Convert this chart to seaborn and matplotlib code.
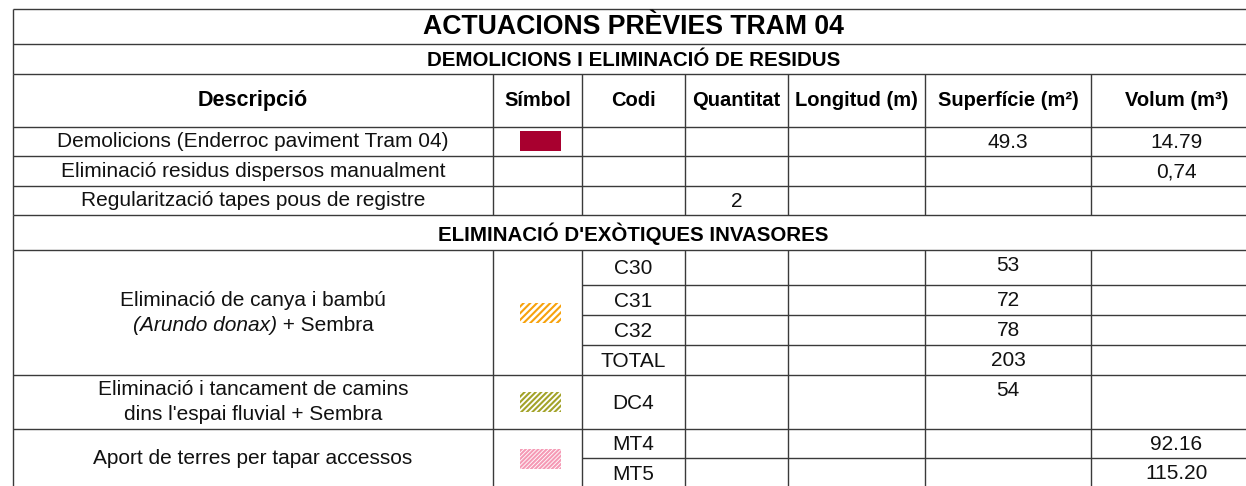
"""
Taula d'actuacions prèvies del Tram 04: demolicions i eliminació d'exòtiques
invasores. Es dibuixa com una graella amb matplotlib sobre un eix buit.
"""
import matplotlib
matplotlib.use('Agg')  # sense pantalla
import matplotlib.pyplot as plt
from matplotlib.patches import Rectangle
import seaborn as sns

sns.set_theme(style='white')
plt.rcParams['font.family'] = ['Liberation Sans', 'DejaVu Sans']
plt.rcParams['hatch.linewidth'] = 1.5

# Dades
titol = 'ACTUACIONS PRÈVIES TRAM 04'
seccio_1 = 'DEMOLICIONS I ELIMINACIÓ DE RESIDUS'
seccio_2 = "ELIMINACIÓ D'EXÒTIQUES INVASORES"
columnes = ['Descripció', 'Símbol', 'Codi', 'Quantitat', 'Longitud (m)',
            'Superfície (m²)', 'Volum (m³)']

demol_desc = ['Demolicions (Enderroc paviment Tram 04)',
              'Eliminació residus dispersos manualment',
              'Regularització tapes pous de registre']
demol_quantitat = ['', '', '2']
demol_superficie = ['49.3', '', '']
demol_volum = ['14.79', '0,74', '']

# cada descripció: llista de línies, cada línia amb trossos (text, cursiva)
inv_desc = [[[('Eliminació de canya i bambú', False)],
             [('(Arundo donax)', True), (' + Sembra', False)]],
            [[('Eliminació i tancament de camins', False)],
             [("dins l'espai fluvial + Sembra", False)]],
            [[('Aport de terres per tapar accessos', False)]]]
inv_files_grup = [4, 1, 2]
inv_color = ['#f7a20c', '#a3a329', '#f59ab5']
inv_hatch = ['/////', '//////', '////////']
inv_codi = ['C30', 'C31', 'C32', 'TOTAL', 'DC4', 'MT4', 'MT5']
inv_superficie = ['53', '72', '78', '203', '54', '', '']
inv_volum = ['', '', '', '', '', '92.16', '115.20']

# Geometria (píxels)
W, H = 1246, 486
col_x = [13, 493, 582, 685, 788, 925, 1091, 1262]
y_titol = (9, 44)
y_sec1 = (44, 74)
y_cap = (74, 127)
demol_h = [29, 30, 29]
y_sec2_h = 35
inv_h = [35, 30, 30, 30, 54, 29, 30]

linia = dict(color='#3a3a3a', lw=1.0)
fs = 15
interlinia = 25

fig = plt.figure(figsize=(W / 100, H / 100), dpi=100)
ax = fig.add_axes([0, 0, 1, 1])
ax.set_xlim(0, W)
ax.set_ylim(H, 0)
ax.axis('off')
renderer = fig.canvas.get_renderer()

x0, x1 = col_x[0], col_x[-1]


def hline(y, xa=x0, xb=x1):
    ax.plot([xa, xb], [y, y], solid_capstyle='butt', **linia)


def vline(x, ya, yb):
    ax.plot([x, x], [ya, yb], solid_capstyle='butt', **linia)


def centre(i):
    return (col_x[i] + col_x[i + 1]) / 2


def linia_mixta(xc, yc, trossos):
    # escriu una línia amb trossos en cursiva, centrada a xc
    arts = [ax.text(0, yc, t, ha='left', va='center', fontsize=fs, color='#111',
                    fontstyle='italic' if it else 'normal') for t, it in trossos]
    amples = [a.get_window_extent(renderer).width for a in arts]
    x = xc - sum(amples) / 2
    for a, w in zip(arts, amples):
        a.set_x(x)
        x += w


# Títol i primera secció
hline(y_titol[0])
ax.text((x0 + x1) / 2 - 4, sum(y_titol) / 2 + 1, titol, ha='center', va='center',
        fontsize=19.2, fontweight='bold', color='black')
hline(y_sec1[0])
ax.text((x0 + x1) / 2 - 4, sum(y_sec1) / 2 + 1, seccio_1, ha='center', va='center',
        fontsize=14.8, fontweight='bold', color='black')
hline(y_sec1[1])

# Capçalera
for i, nom in enumerate(columnes):
    ax.text(centre(i), sum(y_cap) / 2, nom, ha='center', va='center',
            fontsize=14.5 if i else 15.5, fontweight='bold', color='black')
hline(y_cap[1])

# Files de demolicions
y = y_cap[1]
for k, desc in enumerate(demol_desc):
    yc = y + demol_h[k] / 2
    ax.text(centre(0), yc, desc, ha='center', va='center', fontsize=fs, color='#111')
    for i, val in ((3, demol_quantitat[k]), (5, demol_superficie[k]), (6, demol_volum[k])):
        if val:
            ax.text(centre(i), yc + 1, val, ha='center', va='center', fontsize=fs, color='#111')
    if k == 0:
        ax.add_patch(Rectangle((520, y + 4), 41, 20, facecolor='#a8002f', edgecolor='none'))
    y += demol_h[k]
    hline(y)
y_demol_fi = y
for x in col_x[:-1]:
    vline(x, y_cap[0], y_demol_fi)
vline(x0, y_titol[0], y_cap[0])

# Segona secció
ax.text((x0 + x1) / 2 - 4, y + y_sec2_h / 2 + 1, seccio_2, ha='center', va='center',
        fontsize=14.8, fontweight='bold', color='black')
vline(x0, y, y + y_sec2_h)
y += y_sec2_h
hline(y)
y_inv = y

# Files d'invasores
fila = 0
for g, n in enumerate(inv_files_grup):
    ya = y
    for j in range(n):
        h = inv_h[fila]
        yc = y + h / 2
        ax.text(centre(2), yc + 1, inv_codi[fila], ha='center', va='center',
                fontsize=fs, color='#111')
        yv = min(yc, y + 14) + 1
        if inv_superficie[fila]:
            ax.text(centre(5), yv, inv_superficie[fila], ha='center', va='center',
                    fontsize=fs, color='#111')
        if inv_volum[fila]:
            ax.text(centre(6), yv, inv_volum[fila], ha='center', va='center',
                    fontsize=fs, color='#111')
        y += h
        fila += 1
        if j < n - 1:
            hline(y, col_x[2], x1)
    ym = (ya + y) / 2
    linies = inv_desc[g]
    for m, trossos in enumerate(linies):
        yl = ym + (m - (len(linies) - 1) / 2) * interlinia
        linia_mixta(centre(0), yl, trossos)
    ax.add_patch(Rectangle((520, ym - 10), 41, 20, facecolor='none',
                           edgecolor=inv_color[g], hatch=inv_hatch[g], lw=0))
    hline(y)

for x in col_x[:-1]:
    vline(x, y_inv, H + 5)

fig.savefig('out.png', dpi=100, facecolor='white')
